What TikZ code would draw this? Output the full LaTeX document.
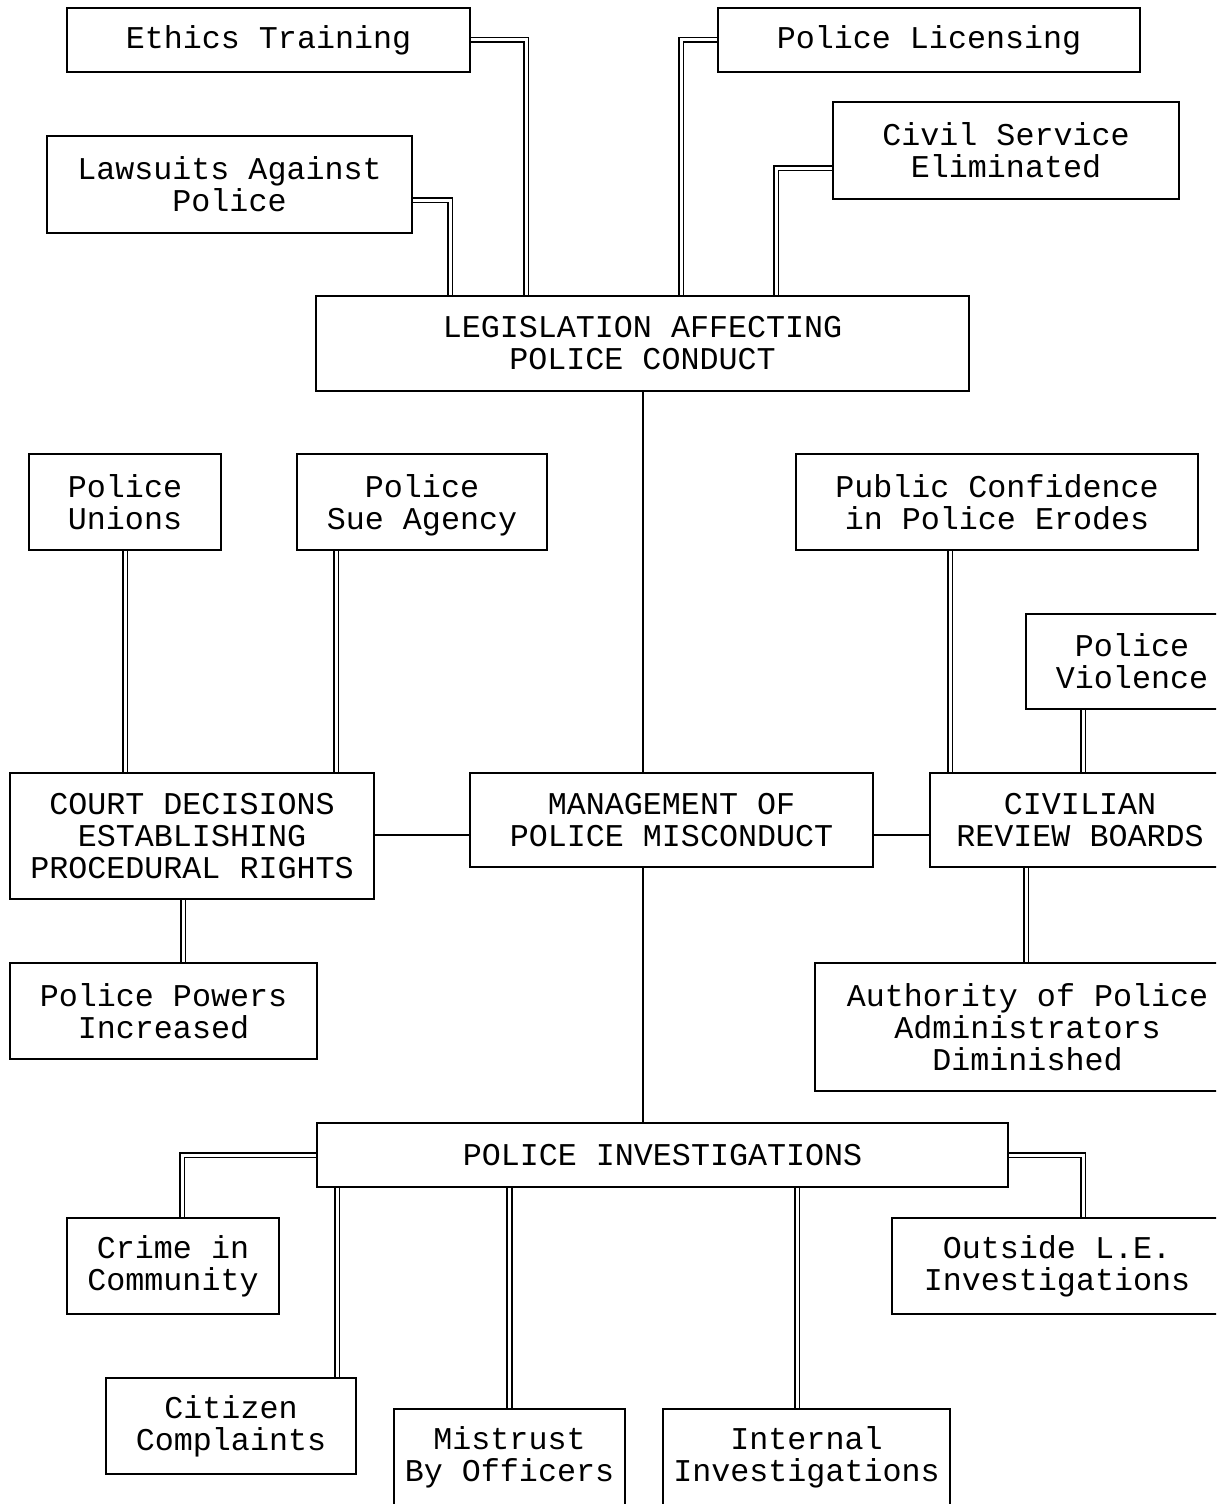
\documentclass[tikz,border=0pt]{standalone}
\usepackage{fontspec}
\usepackage{tikz}
\usetikzlibrary{positioning, calc}
\newfontfamily\boxfont{Liberation Mono}

\begin{document}
\begin{tikzpicture}[
    x=1pt, y=-1pt,
    box/.style={rectangle, draw=black, line width=2.2pt, inner sep=0pt, text centered, align=center, font=\boxfont\fontsize{31.7}{32}\selectfont},
    plainlink/.style={draw=black, line width=2pt},
    duallink/.style={draw=black, line width=1.6pt, double=white, double distance=3pt}
]
\useasboundingbox (0,0) rectangle (1216,1504);
\clip (0,0) rectangle (1216,1504);

% Legislation branch
\node[box, minimum width=403pt, minimum height=64pt] (ethics) at (268.5,40) {Ethics Training};
\node[box, minimum width=422pt, minimum height=64pt] (licensing) at (929,40) {Police Licensing};
\node[box, minimum width=365pt, minimum height=97pt] (lawsuits) at (229.5,184.5) {Lawsuits Against\\Police};
\node[box, minimum width=346pt, minimum height=97pt] (civil) at (1006,150.5) {Civil Service\\Eliminated};
\node[box, minimum width=653pt, minimum height=95pt] (legis) at (642.5,343.5) {LEGISLATION AFFECTING\\POLICE CONDUCT};

% Middle row
\node[box, minimum width=192pt, minimum height=96pt] (unions) at (125,502) {Police\\Unions};
\node[box, minimum width=250pt, minimum height=96pt, text depth=0pt] (sue) at (422,502) {Police\\Sue Agency};
\node[box, minimum width=402pt, minimum height=96pt] (confidence) at (997,502) {Public Confidence\\in Police Erodes};
\node[box, minimum width=212pt, minimum height=95pt] (violence) at (1132,661.5) {Police\\Violence};

\node[box, minimum width=364pt, minimum height=126pt] (court) at (192,836) {COURT DECISIONS\\ESTABLISHING\\PROCEDURAL RIGHTS};
\node[box, minimum width=403pt, minimum height=94pt] (mgmt) at (671.5,820) {MANAGEMENT OF\\POLICE MISCONDUCT};
\node[box, minimum width=300pt, minimum height=94pt] (civilian) at (1080,820) {CIVILIAN\\REVIEW BOARDS};

\node[box, minimum width=307pt, minimum height=96pt] (powers) at (163.5,1011) {Police Powers\\Increased};
\node[box, minimum width=425pt, minimum height=128pt] (authority) at (1027.5,1027) {Authority of Police\\Administrators\\Diminished};

% Investigations branch
\node[box, minimum width=691pt, minimum height=64pt] (invest) at (662.5,1155) {POLICE INVESTIGATIONS};
\node[box, minimum width=212pt, minimum height=96pt] (crime) at (173,1266) {Crime in\\Community};
\node[box, minimum width=330pt, minimum height=96pt] (outside) at (1057,1266) {Outside L.E.\\Investigations};
\node[box, minimum width=250pt, minimum height=96pt] (citizen) at (231,1426) {Citizen\\Complaints};
\node[box, minimum width=231pt, minimum height=96pt] (mistrust) at (509.5,1457) {Mistrust\\By Officers};
\node[box, minimum width=287pt, minimum height=96pt] (internal) at (806.5,1457) {Internal\\Investigations};

% Links into legislation
\draw[duallink] (ethics.east) -| (legis.north -| 526,0);
\draw[duallink] (licensing.west) -| (legis.north -| 681,0);
\draw[duallink] (lawsuits.east |- 0,200) -| (legis.north -| 450,0);
\draw[duallink] (civil.west |- 0,168) -| (legis.north -| 776,0);

% Spine
\draw[plainlink] (legis.south -| 643,0) -- (mgmt.north -| 643,0);
\draw[plainlink] (mgmt.south -| 643,0) -- (invest.north -| 643,0);
\draw[plainlink] (court.east |- 0,835) -- (mgmt.west |- 0,835);
\draw[plainlink] (mgmt.east |- 0,835) -- (civilian.west |- 0,835);

% Court and review boards
\draw[duallink] (unions.south) -- (unions.south |- court.north);
\draw[duallink] (sue.south -| 336,0) -- (court.north -| 336,0);
\draw[duallink] (court.south -| 183,0) -- (powers.north -| 183,0);
\draw[duallink] (confidence.south -| 950,0) -- (civilian.north -| 950,0);
\draw[duallink] (violence.south -| 1083,0) -- (civilian.north -| 1083,0);
\draw[duallink] (civilian.south -| 1026,0) -- (authority.north -| 1026,0);

% Investigations
\draw[duallink] (invest.west) -| (crime.north -| 182,0);
\draw[duallink] (invest.east) -| (outside.north -| 1083,0);
\draw[duallink] (invest.south -| 337,0) -- (citizen.north -| 337,0);
\draw[duallink] (invest.south -| mistrust.north) -- (mistrust.north);
\draw[duallink] (invest.south -| 797,0) -- (internal.north -| 797,0);

\end{tikzpicture}
\end{document}
